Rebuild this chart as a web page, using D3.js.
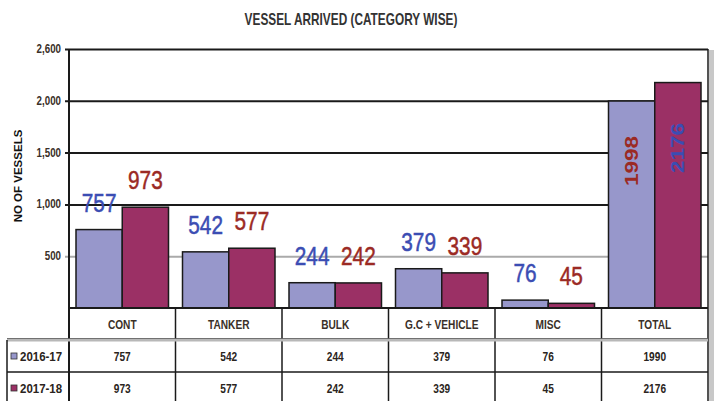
<!DOCTYPE html>
<html><head><meta charset="utf-8">
<script src="https://cdn.jsdelivr.net/npm/d3@7/dist/d3.min.js"></script>
<style>body{margin:0;background:#fff}svg{display:block}</style></head>
<body><svg id="c" width="715" height="401"></svg>
<script>
const categories=["CONT","TANKER","BULK","G.C + VEHICLE","MISC","TOTAL"];
const seriesNames=["2016-17","2017-18"];
const values1617=[757,542,244,379,76,1998];
const values1718=[973,577,242,339,45,2176];
const tableRow1617=["757","542","244","379","76","1990"];
const tableRow1718=["973","577","242","339","45","2176"];
const yTickValues=[500,1000,1500,2000,2500];
const yTickLabels=["500","1,000","1,500","2,000","2,600"];
const titleText="VESSEL ARRIVED (CATEGORY WISE)";
const yAxisTitle="NO OF VESSELS";

const barColors=["#9797cb","#9b3065"];
const labelColors=["#3b4db3","#9b2a24"];
const sans="'Liberation Sans',Arial,sans-serif";

const svg=d3.select("#c");
const L=69,R=708,T=49,B=308;
const rowTop=[308,340,372,404];

const x=d3.scaleBand().domain(categories).range([L,R]).padding(0);
const x1=d3.scaleBand().domain(seriesNames).range([7,99.5]).padding(0);
const y=d3.scaleLinear().domain([0,2500]).range([B,T]);

// narrow text helper: horizontally compressed Liberation Sans
function ntext(parent,px,py,str,o){
  o=Object.assign({size:13,weight:"bold",anchor:"middle",sx:0.8,fill:"#2a2420",stroke:0},o||{});
  const t=parent.append("text").attr("transform",`translate(${px},${py}) scale(${o.sx},1)`)
    .attr("text-anchor",o.anchor).attr("font-family",sans).attr("font-weight",o.weight)
    .attr("font-size",o.size).attr("fill",o.fill).text(str);
  if(o.stroke) t.attr("stroke",o.fill).attr("stroke-width",o.stroke);
  return t;
}

// title
ntext(svg,351,25,titleText,{size:16,sx:0.74,fill:"#333"});

// y axis title
svg.append("text").attr("transform","translate(22,176) rotate(-90)")
  .attr("text-anchor","middle").attr("font-family",sans)
  .attr("font-weight","bold").attr("font-size",11.5).attr("fill","#111").text(yAxisTitle);

// right shadow
svg.append("rect").attr("x",R+1).attr("y",T+1).attr("width",5).attr("height",401-T).attr("fill","#c8c8c8");

// gridlines
const yAxis=d3.axisLeft(y).tickValues(yTickValues).tickSize(-(R-L)).tickFormat("");
const gy=svg.append("g").attr("transform",`translate(${L},0)`).call(yAxis);
gy.select(".domain").remove();
gy.selectAll(".tick line").attr("stroke",d=>d===500?"#aaa":"#1a1a1a").attr("stroke-width",2)
  .attr("x1",-4);
yTickValues.forEach((v,i)=>ntext(svg,L-8,y(v)+4,yTickLabels[i],{size:13,sx:0.75,anchor:"end",fill:"#3a3028"}));

// bars
const series=[values1617,values1718];
series.forEach((vals,s)=>{
  svg.append("g").selectAll("rect").data(categories).join("rect")
    .attr("x",(c)=>x(c)+x1(seriesNames[s]))
    .attr("y",(c,i)=>y(vals[i]))
    .attr("width",x1.bandwidth())
    .attr("height",(c,i)=>B-y(vals[i]))
    .attr("fill",barColors[s]).attr("stroke","#1a1a1a").attr("stroke-width",1.5);
});

// value labels
series.forEach((vals,s)=>{
  categories.forEach((c,i)=>{
    const cx=x(c)+x1(seriesNames[s])+x1.bandwidth()/2;
    if(c==="TOTAL"){
      const cy=y(vals[i]*0.71);
      svg.append("text").attr("transform",`translate(${cx+6.5},${cy}) rotate(-90) scale(1.25,1)`)
        .attr("text-anchor","middle").attr("font-family",sans)
        .attr("font-weight","bold").attr("font-size",18)
        .attr("fill",labelColors[1-s]).text(vals[i]);
    } else {
      ntext(svg,cx,y(vals[i])-18,vals[i],{size:26,weight:"normal",sx:0.8,fill:labelColors[s],stroke:0.5});
    }
  });
});

// axis line & right border
svg.append("line").attr("x1",L).attr("x2",L).attr("y1",T).attr("y2",401).attr("stroke","#1a1a1a").attr("stroke-width",2);
svg.append("line").attr("x1",R).attr("x2",R).attr("y1",T).attr("y2",401).attr("stroke","#1a1a1a").attr("stroke-width",1.5);
svg.append("line").attr("x1",L).attr("x2",R).attr("y1",B).attr("y2",B).attr("stroke","#1a1a1a").attr("stroke-width",2);

// table
const tg=svg.append("g");
categories.forEach((c,i)=>{
  if(i>0) tg.append("line").attr("x1",x(c)).attr("x2",x(c)).attr("y1",B).attr("y2",401).attr("stroke","#1a1a1a").attr("stroke-width",1.5);
});
tg.append("line").attr("x1",7).attr("x2",R).attr("y1",rowTop[1]).attr("y2",rowTop[1]).attr("stroke","#b8b8b8").attr("stroke-width",3);
tg.append("line").attr("x1",7).attr("x2",R).attr("y1",rowTop[1]-1.5).attr("y2",rowTop[1]-1.5).attr("stroke","#555").attr("stroke-width",0.8);
tg.append("line").attr("x1",7).attr("x2",R).attr("y1",rowTop[2]).attr("y2",rowTop[2]).attr("stroke","#1a1a1a").attr("stroke-width",1.5);
tg.append("line").attr("x1",7).attr("x2",7).attr("y1",rowTop[1]).attr("y2",401).attr("stroke","#1a1a1a").attr("stroke-width",1.5);

categories.forEach(c=>ntext(tg,x(c)+x.bandwidth()/2,(rowTop[0]+rowTop[1])/2+5,c,{size:13,sx:0.78,fill:"#3a3028"}));
[tableRow1617,tableRow1718].forEach((row,r)=>{
  const yy=(rowTop[r+1]+rowTop[r+2])/2+5;
  row.forEach((d,i)=>ntext(tg,x(categories[i])+x.bandwidth()/2,yy,d,{size:13,sx:0.78}));
  tg.append("rect").attr("x",11).attr("y",yy-8).attr("width",6).attr("height",6)
    .attr("fill",barColors[r]).attr("stroke","#333").attr("stroke-width",0.8);
  ntext(tg,20,yy,seriesNames[r],{size:13.5,sx:0.85,anchor:"start"});
});
</script></body></html>
